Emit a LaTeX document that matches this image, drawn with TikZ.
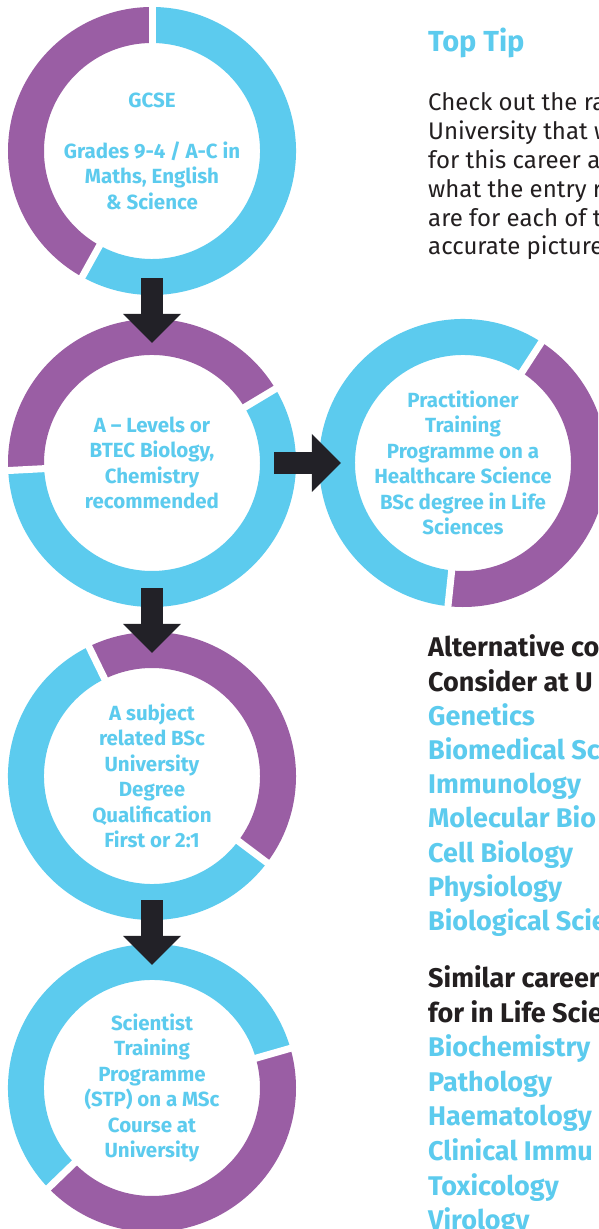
\documentclass[tikz,border=0pt]{standalone}
\usepackage{fontspec}
\setmainfont{Fira Sans}
\usetikzlibrary{arrows.meta}
\definecolor{ringpurple}{HTML}{9A5EA4}
\definecolor{ringcyan}{HTML}{5CCBEE}
\definecolor{inkdark}{HTML}{231F20}
\definecolor{arrowdark}{HTML}{222127}

% ring segment: node, start angle, end angle, colour
\newcommand{\ringseg}[4]{%
  \draw[#4, line width=36pt] ([shift={(#2:126)}]#1.center)
    arc[start angle=#2, end angle=#3, radius=126];}
% white cut between two segments
\newcommand{\ringgap}[2]{%
  \draw[white, line width=7pt] ([shift={(#2:104)}]#1.center) -- ([shift={(#2:150)}]#1.center);}

\begin{document}
\begin{tikzpicture}[x=1pt, y=1pt,
    ringnode/.style={
      circle, minimum size=288pt, inner sep=0pt, align=center,
      text=ringcyan, font=\fontsize{20.5}{25.5}\selectfont\bfseries
    },
    flowarrow/.style={
      draw=arrowdark, line width=22pt,
      -{Triangle[width=58pt, length=29pt, line width=0pt]}
    },
    tiptitle/.style={anchor=base west, inner sep=0pt, text=ringcyan,
      font=\fontsize{29}{34}\selectfont\bfseries},
    bodytext/.style={anchor=base west, inner sep=0pt, text=inkdark,
      font=\fontsize{24}{28.8}\selectfont},
    headtext/.style={anchor=base west, inner sep=0pt, text=inkdark,
      font=\fontsize{27}{34}\selectfont\bfseries},
    listtext/.style={anchor=base west, inner sep=0pt, text=ringcyan,
      font=\fontsize{27}{34}\selectfont\bfseries}
  ]

    % ── Page frame ───────────────────────────────────────────────────────
    \useasboundingbox (0,0) rectangle (598,1229);
    \clip (0,0) rectangle (598,1229);
    \fill[white] (0,0) rectangle (598,1229);

    % ── Step circles ─────────────────────────────────────────────────────
    \node[ringnode] (gcse)   at (152,1078) {GCSE\\[25.5pt]Grades 9-4 / A-C in\\Maths, English\\\& Science};
    \node[ringnode] (alevel) at (152, 766) {A – Levels or\\BTEC Biology,\\Chemistry\\recommended};
    \node[ringnode] (ptp)    at (463, 766) {Practitioner\\Training\\Programme on a\\Healthcare Science\\BSc degree in Life\\Sciences};
    \node[ringnode] (degree) at (152, 453) {A subject\\related BSc\\University\\Degree\\Qualification\\First or 2:1};
    \node[ringnode] (stp)    at (152, 141) {Scientist\\Training\\Programme\\(STP) on a MSc\\Course at\\University};

    % ── Rings ────────────────────────────────────────────────────────────
    \ringseg{gcse}{90}{241}{ringpurple}
    \ringseg{gcse}{241}{450}{ringcyan}
    \ringgap{gcse}{90}
    \ringgap{gcse}{241}

    \ringseg{alevel}{31}{183}{ringpurple}
    \ringseg{alevel}{183}{391}{ringcyan}
    \ringgap{alevel}{31}
    \ringgap{alevel}{183}

    \ringseg{ptp}{57}{264}{ringcyan}
    \ringseg{ptp}{264}{417}{ringpurple}
    \ringgap{ptp}{57}
    \ringgap{ptp}{264}

    \ringseg{degree}{-37}{116}{ringpurple}
    \ringseg{degree}{116}{323}{ringcyan}
    \ringgap{degree}{-37}
    \ringgap{degree}{116}

    \ringseg{stp}{16}{224}{ringcyan}
    \ringseg{stp}{224}{376}{ringpurple}
    \ringgap{stp}{16}
    \ringgap{stp}{224}

    % ── Arrows between steps ─────────────────────────────────────────────
    \draw[flowarrow] ([yshift=17pt]gcse.south)   -- ([yshift=-24pt]alevel.north);
    \draw[flowarrow] ([xshift=-22pt]alevel.east) -- ([xshift=22pt]ptp.west);
    \draw[flowarrow] ([yshift=19pt]alevel.south) -- ([yshift=-21pt]degree.north);
    \draw[flowarrow] ([yshift=20pt]degree.south) -- ([yshift=-21pt]stp.north);

    % ── Top tip ──────────────────────────────────────────────────────────
    \node[tiptitle] (tiptitle) at (428,1177) {Top Tip};
    \foreach \txt [count=\i from 0] in {Check out the ra, University that w,
        for this career a, what the entry r, are for each of t, accurate picture}
      \node[bodytext] (tip\i) at (428,{1118-28.8*\i}) {\txt};

    % ── Alternative courses ──────────────────────────────────────────────
    \node[headtext] (althead1) at (428,572) {Alternative co};
    \node[headtext] (althead2) at (428,537.8) {Consider at U};
    \foreach \txt [count=\i from 2] in {Genetics, Biomedical Sc, Immunology,
        Molecular Bio, Cell Biology, Physiology, Biological Scie}
      \node[listtext] (alt\i) at (428,{572-34.2*\i}) {\txt};

    % ── Similar careers ──────────────────────────────────────────────────
    \node[headtext] (simhead1) at (428,241) {Similar career};
    \node[headtext] (simhead2) at (428,206.5) {for in Life Scie};
    \foreach \txt [count=\i from 2] in {Biochemistry, Pathology, Haematology,
        Clinical Immu, Toxicology, Virology}
      \node[listtext] (sim\i) at (428,{241-34.5*\i}) {\txt};

  \end{tikzpicture}
\end{document}
